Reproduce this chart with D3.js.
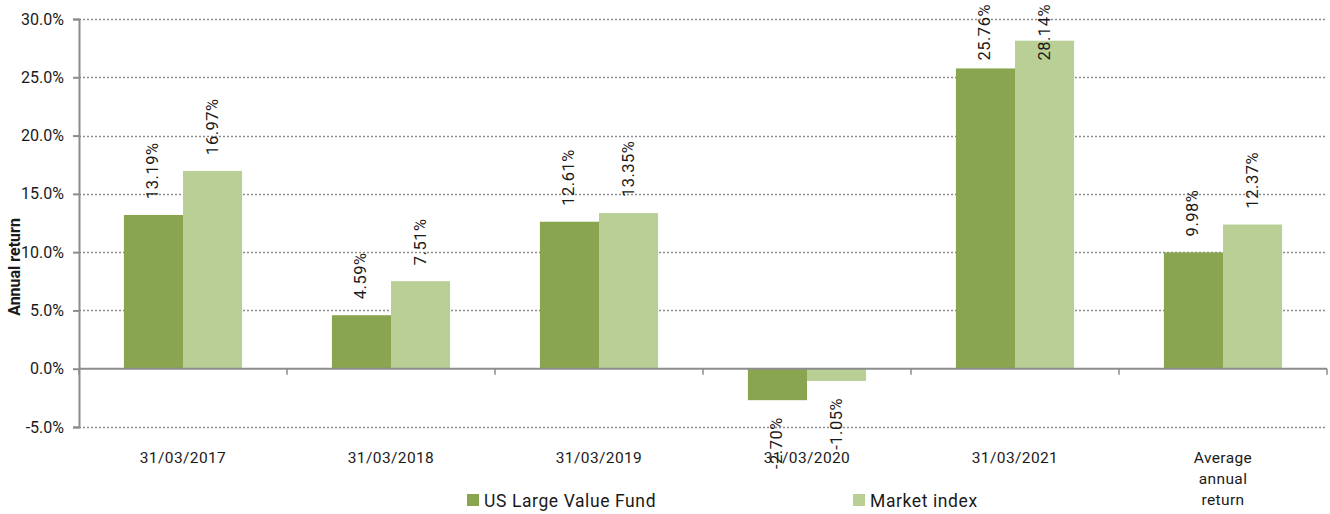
<!DOCTYPE html>
<html>
<head>
<meta charset="utf-8">
<script src="https://cdn.jsdelivr.net/npm/d3@7"></script>
<style>
  body { margin: 0; background: #fff; }
  svg text { font-family: Roboto, "Noto Sans", sans-serif; fill: #1a1a1a; }
</style>
</head>
<body>
<div id="chart"></div>
<script>
// Data
const categories = ['31/03/2017', '31/03/2018', '31/03/2019', '31/03/2020', '31/03/2021', 'Average annual return'];
const categoryLines = [['31/03/2017'], ['31/03/2018'], ['31/03/2019'], ['31/03/2020'], ['31/03/2021'], ['Average', 'annual', 'return']];
const seriesNames = ['US Large Value Fund', 'Market index'];
const fundValues = [13.19, 4.59, 12.61, -2.70, 25.76, 9.98];
const marketValues = [16.97, 7.51, 13.35, -1.05, 28.14, 12.37];
const yTicks = [-5, 0, 5, 10, 15, 20, 25, 30];
const colors = ['#8aa54f', '#b9cf96'];

const width = 1330, height = 514;
const margin = { top: 19, right: 3, bottom: 87, left: 79 };

const svg = d3.select('#chart').append('svg')
    .attr('width', width)
    .attr('height', height);

const x0 = d3.scaleBand()
    .domain(categories)
    .range([margin.left, width - margin.right]);

const x1 = d3.scaleBand()
    .domain(seriesNames)
    .range([0, x0.bandwidth()])
    .paddingInner(0)
    .paddingOuter(0.76);

const y = d3.scaleLinear()
    .domain([-5, 30])
    .range([height - margin.bottom, margin.top]);

// gridlines (dotted), zero line solid
svg.append('g').selectAll('line')
    .data(yTicks.filter(t => t !== 0))
    .join('line')
    .attr('x1', margin.left)
    .attr('x2', width - margin.right)
    .attr('y1', d => Math.round(y(d)) + 0.5)
    .attr('y2', d => Math.round(y(d)) + 0.5)
    .attr('stroke', '#8c8c8c')
    .attr('stroke-width', 1.3)
    .attr('stroke-dasharray', '2,2');

// bars
const rows = categories.map((c, i) => ({ cat: c, vals: [fundValues[i], marketValues[i]] }));

const groups = svg.append('g').selectAll('g')
    .data(rows)
    .join('g')
    .attr('transform', d => `translate(${x0(d.cat)},0)`);

groups.selectAll('rect')
    .data(d => d.vals.map((v, j) => ({ name: seriesNames[j], v, j })))
    .join('rect')
    .attr('x', d => x1(d.name))
    .attr('width', x1.bandwidth())
    .attr('y', d => y(Math.max(0, d.v)))
    .attr('height', d => Math.abs(y(d.v) - y(0)))
    .attr('fill', d => colors[d.j]);

// value labels, rotated
groups.selectAll('text.val')
    .data(d => d.vals.map((v, j) => ({ name: seriesNames[j], v, j })))
    .join('text')
    .attr('class', 'val')
    .attr('font-size', 16.5)
    .attr('letter-spacing', 0.5)
    .text(d => d.v.toFixed(2) + '%')
    .each(function (d) {
        const el = d3.select(this);
        const len = this.getComputedTextLength();
        const cx = x1(d.name) + x1.bandwidth() / 2 + 5;
        let yy;
        if (d.v >= 0) {
            yy = y(d.v) - 16;
            if (yy - len < 4) yy = 4 + len;
            el.attr('text-anchor', 'start');
        } else {
            yy = y(d.v) + 17;
            el.attr('text-anchor', 'end');
        }
        el.attr('transform', `translate(${cx},${yy}) rotate(-90)`);
    });

// y axis
const yAxis = svg.append('g')
    .attr('transform', `translate(${margin.left},0)`)
    .call(d3.axisLeft(y).tickValues(yTicks).tickFormat(d => d.toFixed(1) + '%').tickSize(6).tickPadding(9));
yAxis.select('.domain').attr('stroke', '#8c8c8c').attr('stroke-width', 2);
yAxis.selectAll('.tick line').attr('stroke', '#8c8c8c').attr('stroke-width', 2);
yAxis.selectAll('.tick text')
    .attr('font-size', 16)
    .attr('font-family', 'Roboto, sans-serif')
    .attr('fill', '#1a1a1a');

// x axis at zero, ticks on category boundaries
const xAxisG = svg.append('g');
xAxisG.append('line')
    .attr('x1', margin.left)
    .attr('x2', width - margin.right)
    .attr('y1', y(0))
    .attr('y2', y(0))
    .attr('stroke', '#8c8c8c')
    .attr('stroke-width', 2);
const boundaries = categories.map(c => x0(c)).concat([x0(categories[categories.length - 1]) + x0.bandwidth()]);
xAxisG.selectAll('line.tk')
    .data(boundaries)
    .join('line')
    .attr('class', 'tk')
    .attr('x1', d => d)
    .attr('x2', d => d)
    .attr('y1', y(0))
    .attr('y2', y(0) + 6)
    .attr('stroke', '#8c8c8c')
    .attr('stroke-width', 1.5);

// category labels
svg.append('g').selectAll('text')
    .data(categories)
    .join('text')
    .attr('x', d => x0(d) + x0.bandwidth() / 2)
    .attr('y', 463)
    .attr('text-anchor', 'middle')
    .attr('font-size', 15.5)
    .attr('letter-spacing', 0.4)
    .each(function (d, i) {
        d3.select(this).selectAll('tspan')
            .data(categoryLines[i])
            .join('tspan')
            .attr('x', x0(d) + x0.bandwidth() / 2)
            .attr('dy', (t, k) => k === 0 ? 0 : 21)
            .text(t => t);
    });

// y title
svg.append('text')
    .attr('transform', `translate(20,267) rotate(-90)`)
    .attr('text-anchor', 'middle')
    .attr('font-size', 16)
    .attr('font-weight', 'bold')
    .text('Annual return');

// legend
const legendX = [467, 853];
const legend = svg.append('g').selectAll('g')
    .data(seriesNames)
    .join('g')
    .attr('transform', (d, i) => `translate(${legendX[i]},494)`);
legend.append('rect')
    .attr('width', 12)
    .attr('height', 12)
    .attr('fill', (d, i) => colors[i]);
legend.append('text')
    .attr('x', 17)
    .attr('y', 12.5)
    .attr('font-size', 17.5)
    .attr('letter-spacing', 0.6)
    .text(d => d);
</script>
</body>
</html>
